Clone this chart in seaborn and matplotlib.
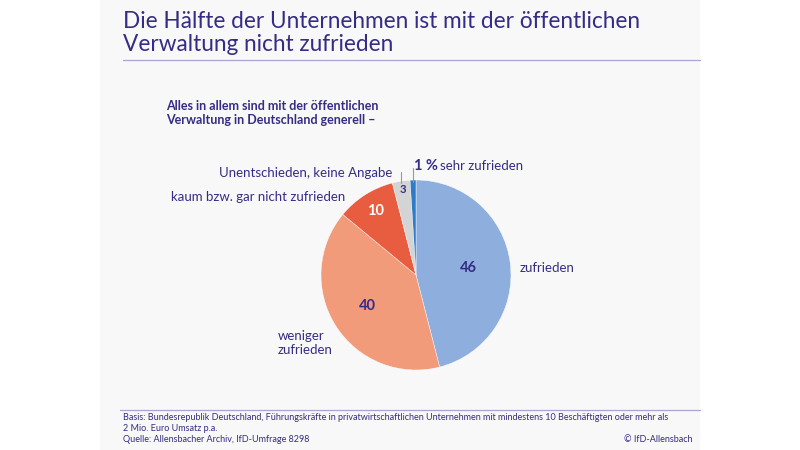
import numpy as np
import matplotlib
matplotlib.use("Agg")
import matplotlib.pyplot as plt
import seaborn as sns
from matplotlib.patches import Rectangle

# data (percent)
categories = ["zufrieden", "weniger zufrieden", "kaum bzw. gar nicht zufrieden",
              "Unentschieden, keine Angabe", "sehr zufrieden"]
values = [46, 40, 10, 3, 1]
value_labels = ["46", "40", "10", "3", ""]

title = "Die Hälfte der Unternehmen ist mit der öffentlichen\nVerwaltung nicht zufrieden"
subtitle = "Alles in allem sind mit der öffentlichen\nVerwaltung in Deutschland generell –"
footer = ("Basis: Bundesrepublik Deutschland, Führungskräfte in privatwirtschaftlichen Unternehmen "
          "mit mindestens 10 Beschäftigten oder mehr als\n2 Mio. Euro Umsatz p.a.")
source = "Quelle: Allensbacher Archiv, IfD-Umfrage 8298"
credit = "© IfD-Allensbach"

sns.set_theme(style="white")
plt.rcParams["font.family"] = ["Lato", "DejaVu Sans"]

ink = "#352c86"
colors = ["#8eaede", "#f29b7b", "#e85c40", "#d4d4d4", "#2f7bc6"]
label_r = [0.56, 0.61, 0.80, 0.91, 0.0]
label_col = [ink, ink, "white", ink, ink]

fig = plt.figure(figsize=(8, 4.5), dpi=100)
fig.patch.set_facecolor("white")
W, H = 800, 450

def fx(x):
    return x / W

def fy(y):
    return 1 - y / H

# slide background
fig.patches.append(Rectangle((fx(100), 0), fx(600), 1, transform=fig.transFigure,
                             facecolor="#f8f8f8", edgecolor="none", zorder=-10))

# title + rule
fig.text(fx(123), fy(33), title, fontsize=16.3, color=ink, ha="left", va="center",
         linespacing=1.12)
fig.add_artist(plt.Line2D([fx(123), fx(700)], [fy(60), fy(60)], transform=fig.transFigure,
                          color="#a9a3d6", lw=0.9))

fig.text(fx(166), fy(113), subtitle, fontsize=9, fontweight="bold", color=ink,
         ha="left", va="center", linespacing=1.15)

# pie
cx, cy, r = 416, 275, 95
ax = fig.add_axes([fx(cx - r), fy(cy + r), (2 * r) / W, (2 * r) / H])
ax.set_zorder(2)
wedges, _ = ax.pie(values, colors=colors, startangle=90, counterclock=False, radius=1,
                   wedgeprops=dict(edgecolor="white", linewidth=0.3))
ax.set_xlim(-1, 1)
ax.set_ylim(-1, 1)
ax.set_aspect("equal")
ax.axis("off")

for w, txt, rr, c in zip(wedges, value_labels, label_r, label_col):
    if not txt:
        continue
    ang = np.deg2rad((w.theta1 + w.theta2) / 2)
    ax.text(rr * np.cos(ang), rr * np.sin(ang), txt, ha="center", va="center",
            fontsize=10.5 if txt != "3" else 8, fontweight="bold", color=c)

# leader lines for small slices
for w, top in zip(wedges[3:], [1.08, 1.13]):
    ang = np.deg2rad((w.theta1 + w.theta2) / 2)
    x = np.cos(ang)
    ax.plot([x, x], [np.sin(ang) - 0.02, top], color="#9a9a9a", lw=0.8, clip_on=False)

# outer labels
lab = dict(fontsize=9.5, color=ink, va="center")
fig.text(fx(520), fy(268), categories[0], ha="left", **lab)
fig.text(fx(278), fy(343), "weniger\nzufrieden", ha="left", linespacing=1.1, **lab)
fig.text(fx(345), fy(197), categories[2], ha="right", **lab)
fig.text(fx(392), fy(173), categories[3], ha="right", **lab)
fig.text(fx(414), fy(166), "1 %", ha="left", fontsize=10.5, fontweight="bold", color=ink,
         va="center")
fig.text(fx(440), fy(166), categories[4], ha="left", **lab)

# footer
fig.add_artist(plt.Line2D([fx(120), fx(700)], [fy(410), fy(410)], transform=fig.transFigure,
                          color="#a9a3d6", lw=0.9))
fig.text(fx(123), fy(423), footer, fontsize=6.45, color=ink, ha="left", va="center",
         linespacing=1.25)
fig.text(fx(123), fy(440), source, fontsize=6.45, color=ink, ha="left", va="center")
fig.text(fx(693), fy(440), credit, fontsize=6.45, color=ink, ha="right", va="center")

fig.savefig("out.png", dpi=100, facecolor=fig.get_facecolor())
